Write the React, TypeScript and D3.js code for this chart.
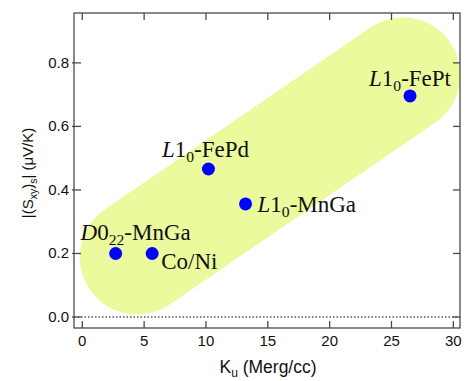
import React from "react";
import * as d3 from "d3";

const materials = ["D0_22-MnGa", "Co/Ni", "L1_0-FePd", "L1_0-MnGa", "L1_0-FePt"];
const kuValues = [2.7, 5.65, 10.2, 13.2, 26.5];
const sxyValues = [0.2, 0.2, 0.466, 0.356, 0.696];
const xTicks = [0, 5, 10, 15, 20, 25, 30];
const yTicks = [0.0, 0.2, 0.4, 0.6, 0.8];
// guide band (centre line ends, data units)
const bandKu = [4.44, 25.93];
const bandSxy = [0.189, 0.762];

// label layout: [dx, dy, anchor]
const labelLayout: [number, number, string][] = [
  [20, -13, "middle"],
  [9, 16, "start"],
  [-3, -12, "middle"],
  [12, 8, "start"],
  [0, -10, "middle"],
];

const W = 470, H = 381;
const L = 74, R = 460, T = 13, B = 328;

function Label({ name, x, y, anchor }: { name: string; x: number; y: number; anchor: string }) {
  const fs = 23;
  const sub = { fontSize: fs * 0.68 };
  if (name.startsWith("D0_22")) {
    return (
      <text x={x} y={y} textAnchor={anchor} fontSize={fs}>
        <tspan fontStyle="italic">D</tspan>0
        <tspan dy={5} style={sub}>22</tspan>
        <tspan dy={-5}>-MnGa</tspan>
      </text>
    );
  }
  if (name.startsWith("L1_0")) {
    const rest = name.slice(4);
    return (
      <text x={x} y={y} textAnchor={anchor} fontSize={fs}>
        <tspan fontStyle="italic">L</tspan>1
        <tspan dy={5} style={sub}>0</tspan>
        <tspan dy={-5}>{rest}</tspan>
      </text>
    );
  }
  return (
    <text x={x} y={y} textAnchor={anchor} fontSize={fs}>
      {name}
    </text>
  );
}

export default function App() {
  const x = d3.scaleLinear().domain([-0.67, 30.54]).range([L, R]);
  const y = d3.scaleLinear().domain([-0.0346, 0.957]).range([B, T]);
  const frame = "#4a4a4a";
  const band = d3.line<number>()
    .x((i) => x(bandKu[i]))
    .y((i) => y(bandSxy[i]))([0, 1]);

  return (
    <svg width={W} height={H} style={{ position: "absolute", left: 0, top: 0 }}>
      <path d={band || ""} stroke="#eafa9c" strokeWidth={115} strokeLinecap="round" fill="none" />
      <line x1={L} x2={R} y1={y(0)} y2={y(0)} stroke="#000" strokeWidth={1} strokeDasharray="1.5,2" />
      <rect x={L} y={T} width={R - L} height={B - T} fill="none" stroke={frame} strokeWidth={1.3} />
      <g stroke={frame} strokeWidth={1.3}>
        {xTicks.map((t) => (
          <g key={"x" + t}>
            <line x1={x(t)} x2={x(t)} y1={B} y2={B - 7} />
            <line x1={x(t)} x2={x(t)} y1={T} y2={T + 7} />
          </g>
        ))}
        {yTicks.map((t) => (
          <g key={"y" + t}>
            <line x1={L - 2} x2={L + 7} y1={y(t)} y2={y(t)} />
            <line x1={R} x2={R - 7} y1={y(t)} y2={y(t)} />
          </g>
        ))}
      </g>
      <g fontFamily="'Liberation Sans', Arial, sans-serif" fontSize={15} fill="#111">
        {xTicks.map((t) => (
          <text key={"xl" + t} x={x(t)} y={B + 18} textAnchor="middle">{d3.format("d")(t)}</text>
        ))}
        {yTicks.map((t) => (
          <text key={"yl" + t} x={L - 5} y={y(t) + 5} textAnchor="end">{d3.format(".1f")(t)}</text>
        ))}
      </g>
      <text x={268} y={373} textAnchor="middle" fontFamily="'Liberation Sans', Arial, sans-serif" fontSize={17.5} fill="#111">
        K<tspan dy={4} fontSize={12}>u</tspan><tspan dy={-4}> (Merg/cc)</tspan>
      </text>
      <text transform={`translate(33,173) rotate(-90)`} textAnchor="middle" fontFamily="'Liberation Sans', Arial, sans-serif" fontSize={15} fill="#111">
        |(S<tspan dy={4} fontSize={10.5}>xy</tspan><tspan dy={-4}>)</tspan><tspan dy={4} fontSize={10.5}>s</tspan><tspan dy={-4}>| (μV/K)</tspan>
      </text>
      {materials.map((m, i) => (
        <circle key={m} cx={x(kuValues[i])} cy={y(sxyValues[i])} r={6.5} fill="#0000ff" />
      ))}
      <g fontFamily="'Liberation Serif', 'DejaVu Serif', serif" fill="#111">
        {materials.map((m, i) => (
          <Label key={m} name={m} x={x(kuValues[i]) + labelLayout[i][0]} y={y(sxyValues[i]) + labelLayout[i][1]} anchor={labelLayout[i][2]} />
        ))}
      </g>
    </svg>
  );
}
